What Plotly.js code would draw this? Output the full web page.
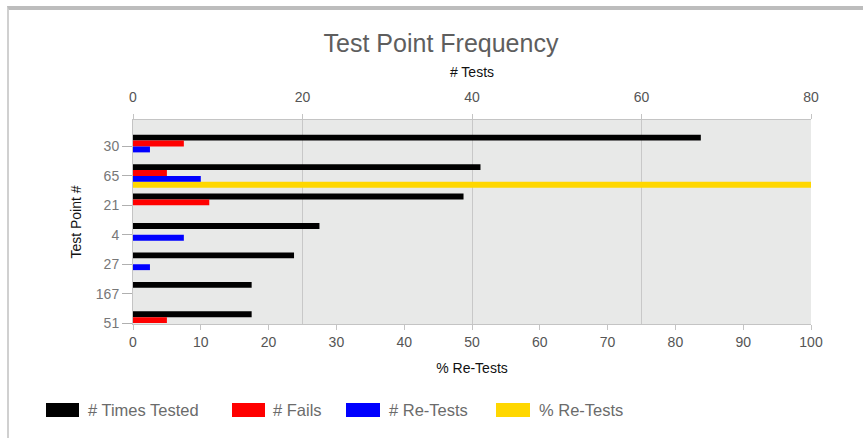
<!DOCTYPE html>
<html>
<head>
<meta charset="utf-8">
<script src="https://cdn.plot.ly/plotly-3.0.1.min.js"></script>
<style>
html,body{margin:0;padding:0;background:#fff;}
#frame{position:absolute;left:7px;top:6px;width:856px;height:432px;border-top:4px solid #bdbdbd;border-left:2px solid #d0d0d0;box-sizing:border-box;}
#chart{position:absolute;left:0;top:0;width:863px;height:438px;}
</style>
</head>
<body>
<div id="chart"></div>
<div id="frame"></div>
<script>
var categories = ["30", "65", "21", "4", "27", "167", "51"];
var timesTested = [67, 41, 39, 22, 19, 14, 14];
var fails = [6, 4, 9, 0, 0, 0, 4];
var reTests = [2, 8, 0, 6, 2, 0, 0];
var pctReTests = [0, 100, 0, 0, 0, 0, 0];
var seriesNames = ["# Times Tested", "# Fails", "# Re-Tests", "% Re-Tests"];
var seriesColors = ["#000000", "#ff0000", "#0000ff", "#ffd700"];

var W = 0.2;
function barTrace(vals, idx, xa) {
  return {
    type: "bar", orientation: "h",
    y: categories, x: vals,
    xaxis: xa, yaxis: "y",
    name: seriesNames[idx],
    marker: {color: seriesColors[idx], line: {width: 0}},
    width: W, offset: -0.4 + idx * W,
    showlegend: false, hoverinfo: "x+y"
  };
}
var data = [
  barTrace(pctReTests, 3, "x"),
  barTrace(timesTested, 0, "x2"),
  barTrace(fails, 1, "x2"),
  barTrace(reTests, 2, "x2")
];

var FONT = "Liberation Sans, Arial, sans-serif";
var plotL = 133, plotR = 811, plotT = 120, plotB = 324;
function px2x(p){ return (p - plotL) / (plotR - plotL); }
function py2y(p){ return (plotB - p) / (plotB - plotT); }

var shapes = [], annotations = [];
var legRects = [[46, 79], [232, 265], [346, 380], [496, 530]];
var legText = [86, 271, 387, 537];
for (var i = 0; i < 4; i++) {
  shapes.push({type: "rect", xref: "paper", yref: "paper",
    x0: px2x(legRects[i][0]), x1: px2x(legRects[i][1]),
    y0: py2y(417), y1: py2y(403),
    fillcolor: seriesColors[i], line: {width: 0}});
  annotations.push({xref: "paper", yref: "paper", x: px2x(legText[i]), y: py2y(410),
    xanchor: "left", yanchor: "middle", showarrow: false,
    text: seriesNames[i], font: {family: FONT, size: 16.5, color: "#6b6b6b"}});
}

var layout = {
  width: 863, height: 438,
  margin: {l: plotL, r: 863 - plotR, t: plotT, b: 438 - plotB, pad: 0},
  paper_bgcolor: "#ffffff", plot_bgcolor: "#e8e9e8",
  font: {family: FONT, color: "#777"},
  title: {text: "Test Point Frequency", x: 0.511, xanchor: "center", y: 1 - 43/438, yanchor: "middle", yref: "container",
    font: {family: FONT, size: 25, color: "#5e5e5e"}},
  barmode: "overlay",
  xaxis: {range: [0, 100], dtick: 10, tick0: 0, side: "bottom", showgrid: false, zeroline: false,
    showline: true, linecolor: "#c4c4c4", linewidth: 1,
    ticks: "outside", ticklen: 5, tickcolor: "#c4c4c4",
    tickfont: {family: FONT, size: 14, color: "#555"},
    title: {text: "% Re-Tests", standoff: 14, font: {family: FONT, size: 14, color: "#111"}}},
  xaxis2: {range: [0, 80], dtick: 20, tick0: 0, side: "top", overlaying: "x", anchor: "y",
    showgrid: true, gridcolor: "#c8c8c8", gridwidth: 1, zeroline: false,
    showline: true, linecolor: "#c4c4c4", linewidth: 1,
    ticks: "outside", ticklen: 5, tickcolor: "#c4c4c4",
    ticklabelstandoff: 6,
    tickfont: {family: FONT, size: 14, color: "#555"},
    title: {text: "# Tests", standoff: 8, font: {family: FONT, size: 14, color: "#111"}}},
  yaxis: {type: "category", range: [6.03, -0.9], showgrid: false, zeroline: false,
    showline: true, linecolor: "#c4c4c4",
    ticks: "outside", ticklen: 10, tickcolor: "#b0b0b0",
    tickfont: {family: FONT, size: 14, color: "#777"},
    title: {text: "Test Point #", standoff: 10, font: {family: FONT, size: 14, color: "#111"}}},
  shapes: shapes, annotations: annotations,
  showlegend: false
};

Plotly.newPlot("chart", data, layout, {displayModeBar: false, staticPlot: true});
</script>
</body>
</html>
